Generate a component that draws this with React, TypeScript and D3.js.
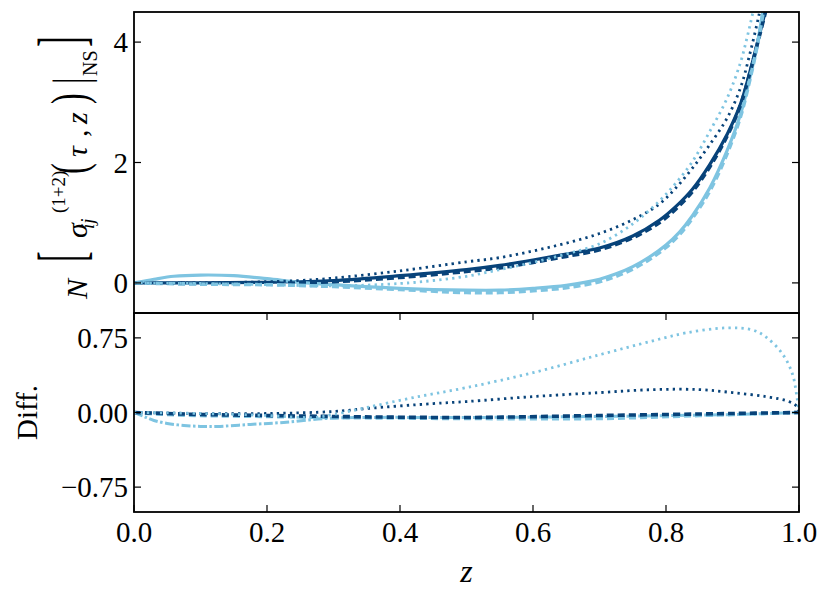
import * as d3 from "d3";

// [z, value]
const darkSolid: [number, number][] = [
  [0, 0], [0.1, 0.0], [0.2, 0.01], [0.3, 0.04], [0.4, 0.12], [0.5, 0.22], [0.55, 0.29],
  [0.6, 0.38], [0.65, 0.48], [0.7, 0.58], [0.75, 0.78], [0.79, 1.04], [0.815, 1.27], [0.84, 1.56],
  [0.866, 1.97], [0.892, 2.47], [0.912, 2.97], [0.926, 3.5], [0.937, 3.97], [0.949, 4.5], [0.96, 5.0],
];
const darkDashed: [number, number][] = [
  [0, 0], [0.1, -0.01], [0.2, -0.01], [0.3, 0.02], [0.4, 0.09], [0.5, 0.19], [0.55, 0.25],
  [0.6, 0.34], [0.65, 0.44], [0.7, 0.55], [0.75, 0.75], [0.79, 1.0], [0.815, 1.23], [0.84, 1.52],
  [0.866, 1.93], [0.892, 2.44], [0.912, 2.95], [0.926, 3.48], [0.937, 3.95], [0.95, 4.52], [0.96, 5.0],
];
const darkDotted: [number, number][] = [
  [0, 0], [0.1, 0.0], [0.2, 0.02], [0.25, 0.04], [0.3, 0.08], [0.4, 0.2], [0.5, 0.35], [0.55, 0.42],
  [0.6, 0.53], [0.65, 0.66], [0.7, 0.82], [0.75, 1.05], [0.79, 1.31], [0.815, 1.58], [0.84, 1.91],
  [0.866, 2.3], [0.892, 2.74], [0.912, 3.24], [0.926, 3.8], [0.94, 4.46], [0.95, 5.0],
];
const lightSolid: [number, number][] = [
  [0, 0], [0.03, 0.06], [0.06, 0.11], [0.1, 0.13], [0.15, 0.12], [0.2, 0.07], [0.25, 0.01],
  [0.3, -0.03], [0.4, -0.09], [0.5, -0.12], [0.55, -0.12], [0.6, -0.09], [0.65, -0.04],
  [0.7, 0.06], [0.725, 0.15], [0.75, 0.27], [0.775, 0.43], [0.8, 0.63], [0.82, 0.84],
  [0.84, 1.12], [0.866, 1.58], [0.892, 2.2], [0.912, 2.8], [0.926, 3.4], [0.937, 3.95],
  [0.944, 4.4], [0.955, 5.1],
];
const lightDashed: [number, number][] = [
  [0, 0], [0.1, -0.02], [0.2, -0.03], [0.3, -0.06], [0.4, -0.11], [0.5, -0.16], [0.55, -0.16],
  [0.6, -0.13], [0.65, -0.08], [0.7, 0.02], [0.725, 0.11], [0.75, 0.23], [0.775, 0.39],
  [0.8, 0.59], [0.82, 0.8], [0.84, 1.08], [0.866, 1.53], [0.892, 2.15], [0.912, 2.76],
  [0.926, 3.37], [0.937, 3.93], [0.945, 4.42], [0.955, 5.05],
];
const lightDotted: [number, number][] = [
  [0, 0], [0.1, -0.01], [0.2, -0.03], [0.3, -0.05], [0.4, -0.01], [0.45, 0.04], [0.5, 0.11],
  [0.55, 0.22], [0.6, 0.34], [0.65, 0.48], [0.7, 0.65], [0.75, 0.98], [0.79, 1.36], [0.815, 1.66],
  [0.84, 2.02], [0.866, 2.52], [0.892, 3.07], [0.912, 3.66], [0.922, 4.08], [0.93, 4.46], [0.94, 5.0],
];

const diffLightDashDot: [number, number][] = [
  [0, 0], [0.015, -0.04], [0.03, -0.08], [0.05, -0.11], [0.075, -0.13], [0.1, -0.14], [0.125, -0.14],
  [0.175, -0.12], [0.225, -0.1], [0.29, -0.06], [0.35, -0.05], [0.5, -0.05], [0.7, -0.04], [0.9, -0.02], [1, 0],
];
const diffDarkDashed: [number, number][] = [
  [0, 0], [0.05, -0.01], [0.1, -0.02], [0.2, -0.03], [0.3, -0.04], [0.5, -0.05], [0.7, -0.03], [0.9, -0.01], [1, 0],
];
const diffLightDashed: [number, number][] = [
  [0, 0], [0.05, -0.02], [0.1, -0.03], [0.2, -0.04], [0.3, -0.05], [0.5, -0.06], [0.7, -0.06],
  [0.85, -0.03], [0.95, -0.01], [1, 0],
];
const diffDarkDotted: [number, number][] = [
  [0, 0], [0.1, -0.01], [0.2, -0.01], [0.3, 0.01], [0.35, 0.04], [0.45, 0.09], [0.5, 0.11],
  [0.6, 0.16], [0.7, 0.2], [0.78, 0.23], [0.85, 0.23], [0.9, 0.2], [0.95, 0.16], [0.985, 0.11],
  [0.997, 0.06], [1, 0.01],
];
const diffLightDotted: [number, number][] = [
  [0, 0], [0.1, -0.01], [0.2, -0.03], [0.27, -0.05], [0.3, -0.02], [0.35, 0.05], [0.42, 0.15],
  [0.5, 0.25], [0.6, 0.4], [0.7, 0.58], [0.78, 0.72], [0.83, 0.8], [0.89, 0.85], [0.93, 0.83],
  [0.95, 0.76], [0.975, 0.59], [0.99, 0.39], [0.997, 0.15], [1, 0.0],
];

const xTicks = [0, 0.2, 0.4, 0.6, 0.8, 1.0];
const topTicks = [0, 2, 4];
const bottomTicks = [-0.75, 0, 0.75];

const DARK = "#08437a";
const LIGHT = "#7ec4e1";
const FONT = "Liberation Serif, DejaVu Serif, serif";

const styles: Record<string, { width: number; dash?: string }> = {
  solid: { width: 3.2 },
  dashed: { width: 3.6, dash: "7 4" },
  dotted: { width: 2.8, dash: "2.3 4.2" },
  dashdot: { width: 3, dash: "9 2.5 2.5 2.5" },
};

const W = 830;
const H = 599;
const left = 134;
const right = 799;
const topY = 12;
const midY = 313;
const bottomY = 512;
const tick = 7;

export default function App() {
  const x = d3.scaleLinear().domain([0, 1]).range([left, right]);
  const yTop = d3.scaleLinear().domain([-0.5, 4.5]).range([midY, topY]);
  const yBot = d3.scaleLinear().domain([-1, 1]).range([bottomY, midY]);

  const lineTop = d3
    .line<[number, number]>()
    .x((d) => x(d[0]))
    .y((d) => yTop(d[1]))
    .curve(d3.curveCatmullRom.alpha(0.5));
  const lineBot = d3
    .line<[number, number]>()
    .x((d) => x(d[0]))
    .y((d) => yBot(d[1]))
    .curve(d3.curveCatmullRom.alpha(0.5));

  const topSeries = [
    { data: darkSolid, color: DARK, style: "solid" },
    { data: lightSolid, color: LIGHT, style: "solid" },
    { data: darkDashed, color: DARK, style: "dashed" },
    { data: lightDashed, color: LIGHT, style: "dashed" },
    { data: darkDotted, color: DARK, style: "dotted" },
    { data: lightDotted, color: LIGHT, style: "dotted" },
  ];
  const botSeries = [
    { data: diffLightDashDot, color: LIGHT, style: "dashdot" },
    { data: diffLightDashed, color: LIGHT, style: "dashed" },
    { data: diffDarkDashed, color: DARK, style: "dashed" },
    { data: diffDarkDotted, color: DARK, style: "dotted" },
    { data: diffLightDotted, color: LIGHT, style: "dotted" },
  ];

  const fmtX = d3.format(".1f");
  const fmtB = (v: number) => (v < 0 ? "\u2212" : "") + d3.format(".2f")(Math.abs(v));

  return (
    <svg
      width={W}
      height={H}
      style={{ position: "absolute", left: 0, top: 0, background: "white", fontFamily: FONT }}
    >
      <defs>
        <clipPath id="clipTop">
          <rect x={left} y={topY} width={right - left} height={midY - topY} />
        </clipPath>
        <clipPath id="clipBot">
          <rect x={left} y={midY} width={right - left} height={bottomY - midY} />
        </clipPath>
      </defs>

      <g clipPath="url(#clipTop)" fill="none">
        {topSeries.map((s, i) => (
          <path
            key={i}
            d={lineTop(s.data) ?? ""}
            stroke={s.color}
            strokeWidth={styles[s.style].width}
            strokeDasharray={styles[s.style].dash}
          />
        ))}
      </g>
      <g clipPath="url(#clipBot)" fill="none">
        {botSeries.map((s, i) => (
          <path
            key={i}
            d={lineBot(s.data) ?? ""}
            stroke={s.color}
            strokeWidth={styles[s.style].width}
            strokeDasharray={styles[s.style].dash}
          />
        ))}
      </g>

      {/* ticks */}
      <g stroke="#000" strokeWidth={1.2}>
        {topTicks.map((t) => (
          <g key={"tt" + t}>
            <line x1={left} x2={left + tick} y1={yTop(t)} y2={yTop(t)} />
            <line x1={right} x2={right - tick} y1={yTop(t)} y2={yTop(t)} />
          </g>
        ))}
        {bottomTicks.map((t) => (
          <g key={"bt" + t}>
            <line x1={left} x2={left + tick} y1={yBot(t)} y2={yBot(t)} />
            <line x1={right} x2={right - tick} y1={yBot(t)} y2={yBot(t)} />
          </g>
        ))}
        {xTicks.map((t) => (
          <g key={"xt" + t}>
            <line x1={x(t)} x2={x(t)} y1={bottomY} y2={bottomY - tick} />
            <line x1={x(t)} x2={x(t)} y1={midY} y2={midY + tick} />
          </g>
        ))}
      </g>

      {/* frames */}
      <rect x={left} y={topY} width={right - left} height={midY - topY} fill="none" stroke="#000" strokeWidth={1.8} />
      <rect x={left} y={midY} width={right - left} height={bottomY - midY} fill="none" stroke="#000" strokeWidth={1.8} />

      {/* tick labels */}
      <g fontSize={29} fill="#000">
        {topTicks.map((t) => (
          <text key={"tl" + t} x={128} y={yTop(t) + 10} textAnchor="end">
            {String(t)}
          </text>
        ))}
        {bottomTicks.map((t) => (
          <text key={"bl" + t} x={128} y={yBot(t) + 10} textAnchor="end">
            {fmtB(t)}
          </text>
        ))}
        {xTicks.map((t) => (
          <text key={"xl" + t} x={x(t)} y={542} textAnchor="middle">
            {fmtX(t)}
          </text>
        ))}
      </g>

      {/* axis labels */}
      <text x={(left + right) / 2} y={582} fontSize={32} fontStyle="italic" textAnchor="middle">
        z
      </text>
      <text transform={`translate(37,${(midY + bottomY) / 2}) rotate(-90)`} fontSize={29} textAnchor="middle">
        Diff.
      </text>

      <g transform="translate(87,0) rotate(-90)" fill="#000">
        <text x={-299} y={0} fontSize={30} fontStyle="italic">N</text>
        <text transform="translate(-262,-4) scale(1,2.05)" fontSize={32}>[</text>
        <text x={-238} y={0} fontSize={30} fontStyle="italic">σ</text>
        <text x={-229} y={7} fontSize={19} fontStyle="italic">ij</text>
        <text x={-213} y={-22} fontSize={19}>(1+2)</text>
        <text transform="translate(-174,-1) scale(1,1.6)" fontSize={32}>(</text>
        <text x={-157} y={0} fontSize={30} fontStyle="italic">τ</text>
        <text x={-137} y={0} fontSize={30}>,</text>
        <text x={-124} y={0} fontSize={30} fontStyle="italic">z</text>
        <text transform="translate(-104,-1) scale(1,1.6)" fontSize={32}>)</text>
        <text transform="translate(-84,0) scale(1,1.5)" fontSize={32}>|</text>
        <text x={-76} y={10} fontSize={20}>NS</text>
        <text transform="translate(-47,-4) scale(1,2.05)" fontSize={32}>]</text>
      </g>
    </svg>
  );
}
